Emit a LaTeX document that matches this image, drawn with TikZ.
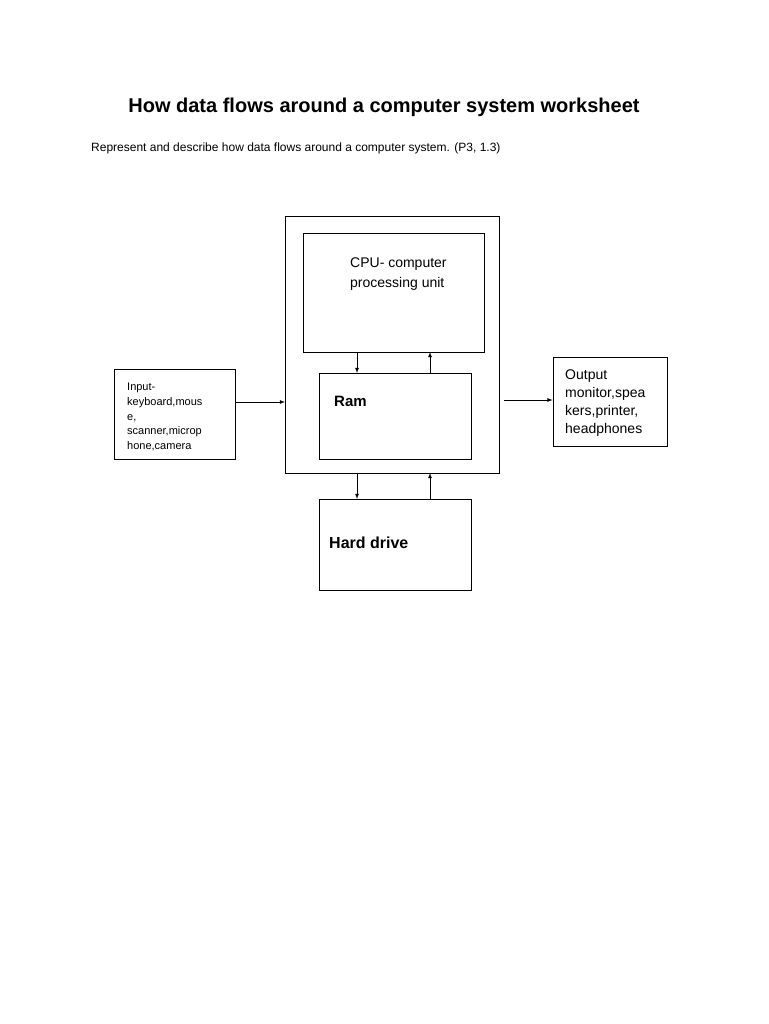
\documentclass[tikz,border=0pt]{standalone}
\usepackage{fontspec}
\setmainfont{Liberation Sans}
\begin{document}
\begin{tikzpicture}[x=1pt,y=-1pt,
  box/.style={draw,line width=0.8pt,minimum width=0,inner sep=0},
  arr/.style={-latex,line width=0.8pt},
  lbl/.style={anchor=north west,align=left,inner sep=0}]
\useasboundingbox (0,0) rectangle (768,1024);
\fill[white] (0,0) rectangle (768,1024);
\node[lbl,font=\bfseries\fontsize{20}{24}\selectfont,anchor=center] (title) at (384,107) {How data flows around a computer system worksheet};
\node[lbl,font=\fontsize{12}{14}\selectfont] (sub) at (91,143) {Represent and describe how data flows around a computer system. (P3, 1.3)};
\draw[line width=0.8pt] (285,216) rectangle (499,473);
\coordinate (outerL) at (285,402);
\coordinate (outerR) at (504,400);
\node[box,minimum width=181pt,minimum height=119pt] (cpu) at (393.5,292.5) {};
\node[box,minimum width=152pt,minimum height=86pt] (ram) at (395,416) {};
\node[box,minimum width=152pt,minimum height=91pt] (hd) at (395,544.5) {};
\node[box,minimum width=121pt,minimum height=90pt] (in) at (174.5,414) {};
\node[box,minimum width=114pt,minimum height=89pt] (out) at (610,401.5) {};
\node[lbl,font=\fontsize{14}{20}\selectfont] (cput) at (350,258) {CPU- computer\\processing unit};
\node[lbl,font=\bfseries\fontsize{15}{18}\selectfont] (ramt) at (334,396) {Ram};
\node[lbl,font=\bfseries\fontsize{16}{19}\selectfont] (hdt) at (329,537) {Hard drive};
\node[lbl,font=\fontsize{11}{14.7}\selectfont] (int) at (127,383) {Input-\\keyboard,mous\\e,\\scanner,microp\\hone,camera};
\node[lbl,font=\fontsize{14}{17.8}\selectfont] (outt) at (565,370) {Output\\monitor,spea\\kers,printer,\\headphones};
\coordinate (cpuA) at (357,352); \coordinate (ramA) at (357,373);
\coordinate (cpuB) at (430,352); \coordinate (ramB) at (430,373);
\coordinate (oA) at (357,473); \coordinate (hdA) at (357,499);
\coordinate (oB) at (430,473); \coordinate (hdB) at (430,499);
\draw[arr] (cpuA) -- (ramA);
\draw[arr] (ramB) -- (cpuB);
\draw[arr] (oA) -- (hdA);
\draw[arr] (hdB) -- (oB);
\draw[arr] (in.east |- outerL) -- (outerL);
\draw[arr] (outerR) -- (out.west |- outerR);
\end{tikzpicture}
\end{document}
